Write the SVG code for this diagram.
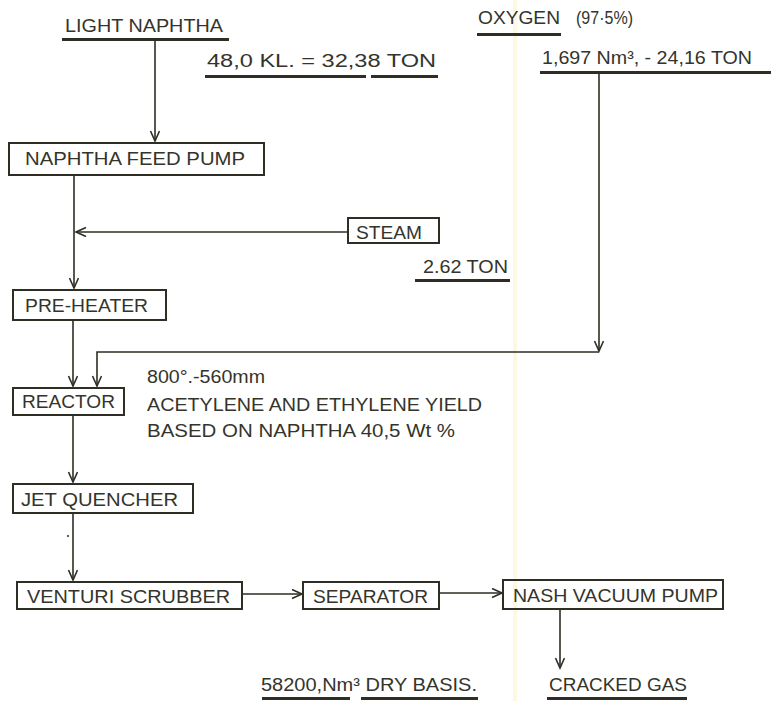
<svg xmlns="http://www.w3.org/2000/svg" width="771" height="701" viewBox="0 0 771 701">
<style>
.t{font-family:"Liberation Sans",Arial,sans-serif;fill:#34342b;font-size:18px}
.box{fill:none;stroke:#2e2e25;stroke-width:2}
.ul{fill:#2e2e25}
.ln{fill:none;stroke:#2e2e25;stroke-width:1.6}
</style>
<defs>
<marker id="arr" markerUnits="userSpaceOnUse" markerWidth="14" markerHeight="12" refX="11" refY="5" orient="auto">
<path d="M1,0.5 L11,5 L1,9.5" fill="none" stroke="#2e2e25" stroke-width="1.6"/>
</marker>
</defs>
<rect x="0" y="0" width="771" height="701" fill="#ffffff"/>
<rect x="513" y="0" width="4" height="701" fill="#fdf8e2"/>

<g id="labels">
<text class="t" x="65" y="32" font-size="19" textLength="158" lengthAdjust="spacingAndGlyphs">LIGHT NAPHTHA</text>
<rect class="ul" x="62" y="38" width="167" height="3"/>
<text class="t" x="207" y="67" textLength="229" lengthAdjust="spacingAndGlyphs">48,0  KL. = 32,38 TON</text>
<rect class="ul" x="205" y="75" width="161" height="3"/>
<rect class="ul" x="371" y="75" width="67" height="3"/>
<text class="t" x="478" y="24" textLength="82" lengthAdjust="spacingAndGlyphs">OXYGEN</text>
<text class="t" x="576" y="24" textLength="57" lengthAdjust="spacingAndGlyphs">(97·5%)</text>
<rect class="ul" x="477" y="33" width="84" height="3"/>
<text class="t" x="542" y="64" textLength="210" lengthAdjust="spacingAndGlyphs">1,697 Nm³, - 24,16 TON</text>
<rect class="ul" x="540" y="71" width="231" height="3"/>
<text class="t" x="423" y="273" textLength="85" lengthAdjust="spacingAndGlyphs">2.62 TON</text>
<rect class="ul" x="415" y="279" width="95" height="3"/>
<text class="t" x="147" y="383" font-size="17" textLength="118" lengthAdjust="spacingAndGlyphs">800°.-560mm</text>
<text class="t" x="147" y="411" textLength="335" lengthAdjust="spacingAndGlyphs">ACETYLENE AND ETHYLENE YIELD</text>
<text class="t" x="147" y="437" textLength="308" lengthAdjust="spacingAndGlyphs">BASED ON NAPHTHA 40,5 Wt %</text>
<text class="t" x="261" y="691" textLength="216" lengthAdjust="spacingAndGlyphs">58200,Nm³  DRY BASIS.</text>
<rect class="ul" x="262" y="697" width="88" height="3"/>
<rect class="ul" x="361" y="697" width="117" height="3"/>
<text class="t" x="549" y="691" textLength="138" lengthAdjust="spacingAndGlyphs">CRACKED GAS</text>
<rect class="ul" x="547" y="697" width="140" height="3"/>
</g>

<g id="connectors">
<path class="ln" d="M155,40 V141" marker-end="url(#arr)"/>
<path class="ln" d="M74,175 V288" marker-end="url(#arr)"/>
<path class="ln" d="M348,232 H76" marker-end="url(#arr)"/>
<path class="ln" d="M73,320 V386" marker-end="url(#arr)"/>
<path class="ln" d="M599,73 V351" marker-end="url(#arr)"/>
<path class="ln" d="M599,352 H97 V386" marker-end="url(#arr)"/>
<path class="ln" d="M73,415 V482" marker-end="url(#arr)"/>
<path class="ln" d="M73,513 V580" marker-end="url(#arr)"/>
<circle cx="68" cy="536" r="1" fill="#2e2e25"/>
<path class="ln" d="M242,594 H302" marker-end="url(#arr)"/>
<path class="ln" d="M439,593 H502" marker-end="url(#arr)"/>
<path class="ln" d="M560,609 V668" marker-end="url(#arr)"/>
</g>

<g id="naphtha-feed-pump">
<rect class="box" x="9" y="143" width="255" height="32"/>
<text class="t" x="25" y="165" textLength="220" lengthAdjust="spacingAndGlyphs">NAPHTHA FEED PUMP</text>
</g>
<g id="steam">
<rect class="box" x="348" y="218" width="91" height="25"/>
<text class="t" x="356" y="239" font-size="17" textLength="66" lengthAdjust="spacingAndGlyphs">STEAM</text>
</g>
<g id="pre-heater">
<rect class="box" x="13" y="290" width="153" height="30"/>
<text class="t" x="25" y="312" textLength="123" lengthAdjust="spacingAndGlyphs">PRE-HEATER</text>
</g>
<g id="reactor">
<rect class="box" x="13" y="388" width="111" height="27"/>
<text class="t" x="22" y="408" textLength="93" lengthAdjust="spacingAndGlyphs">REACTOR</text>
</g>
<g id="jet-quencher">
<rect class="box" x="13" y="484" width="180" height="29"/>
<text class="t" x="21" y="506" textLength="157" lengthAdjust="spacingAndGlyphs">JET QUENCHER</text>
</g>
<g id="venturi-scrubber">
<rect class="box" x="17" y="582" width="225" height="27"/>
<text class="t" x="27" y="603" textLength="203" lengthAdjust="spacingAndGlyphs">VENTURI SCRUBBER</text>
</g>
<g id="separator">
<rect class="box" x="303" y="582" width="136" height="27"/>
<text class="t" x="313" y="603" textLength="115" lengthAdjust="spacingAndGlyphs">SEPARATOR</text>
</g>
<g id="nash-vacuum-pump">
<rect class="box" x="503" y="580" width="220" height="29"/>
<text class="t" x="513" y="602" textLength="205" lengthAdjust="spacingAndGlyphs">NASH VACUUM PUMP</text>
</g>
</svg>
